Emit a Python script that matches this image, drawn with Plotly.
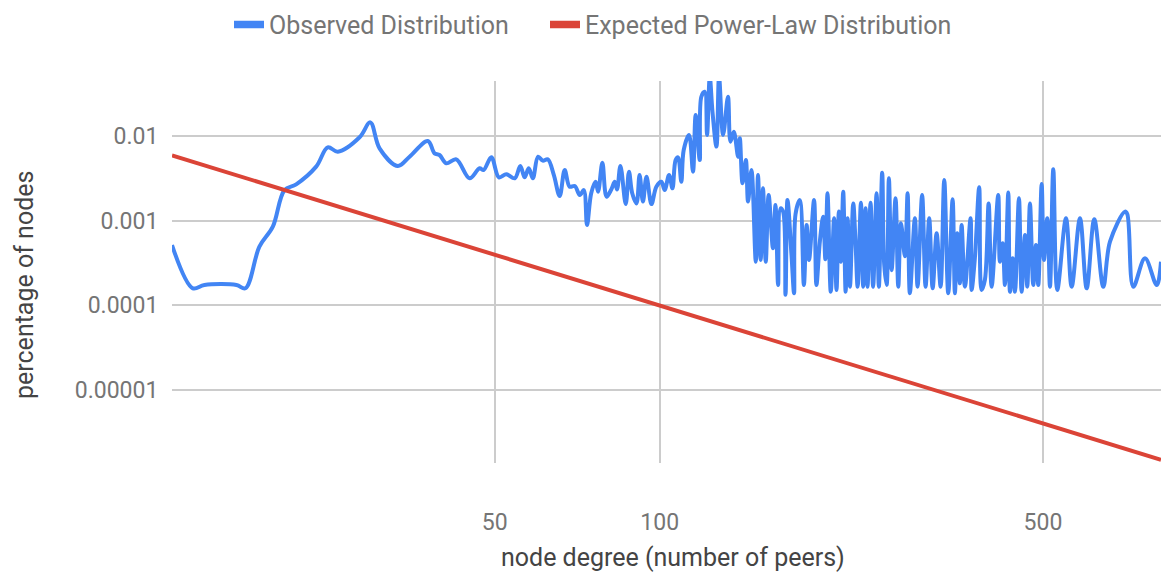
import plotly.graph_objects as go
import math

# ---- data ----
obs_degree = [
    12.9, 14.08, 14.78, 16.91, 17.56, 18.62, 19.70, 20.69, 21.73, 23.63,
    24.81, 25.88, 28.36, 29.66, 30.84, 33.30, 34.98, 37.77, 38.85, 39.67,
    40.81, 42.56, 45.01, 46.94, 47.74, 49.31, 50.91, 52.5, 54.4, 55.7,
    56.7, 57.7, 58.7, 60.0, 61.2, 62.5, 64.1, 65.7, 67.1, 68.5,
    70.0, 71.5, 72.7, 73.7, 75.0, 76.4, 77.2, 78.6, 80.0, 81.6,
    82.8, 83.6, 84.8, 86.7, 87.9, 89.1, 90.7, 91.9, 93.2, 94.6,
    96.6, 98.6, 100.7, 102.1, 104.0, 105.5, 106.9, 108.0, 109.5, 110.6,
    113.1, 115.0, 116.3, 118.3, 119.1, 120.8, 122.0, 123.4, 124.8, 126.9,
    128.3, 130.5, 133.2, 134.6, 136.5, 139.0, 140.0, 141.6, 143.6, 144.9,
    147.0, 149.7, 151.1, 152.8, 154.3, 156.1, 158.0, 160.9, 162.6, 164.4,
    166.1, 167.9, 169.6, 171.0, 173.9, 175.8, 176.9, 180.1, 183.2, 185.3,
    187.2, 191.2, 193.1, 195.9, 198.6, 200.5, 202.3, 205.1, 208.0, 210.1,
    212.2, 214.0, 216.1, 218.3, 220.1, 222.3, 225.4, 227.6, 229.6, 232.8,
    235.0, 237.4, 239.3, 242.4, 245.0, 248.6, 251.0, 254.5, 256.7, 259.3,
    261.8, 264.8, 269.2, 272.3, 275.4, 280.0, 283.2, 285.9, 292.0, 295.3,
    301.0, 305.4, 310.1, 314.6, 319.9, 325.3, 330.3, 335.9, 342.1, 345.4,
    348.8, 352.7, 355.3, 360.3, 368.9, 370.5, 375.6, 382.5, 386.4, 391.8,
    398.0, 403.0, 414.3, 417.3, 422.1, 426.2, 432.2, 435.3, 440.2, 444.5,
    452.0, 457.1, 463.6, 468.1, 473.4, 480.0, 485.5, 490.2, 497.2, 502.0,
    509.1, 514.9, 522.1, 530.9, 550.7, 564.0, 584.0, 600.7, 620.2, 644.1,
    662.5, 705.5, 712.3, 730.6, 767.4, 806.0, 820.7,
]
obs_share = [
    0.000516, 0.000159, 0.000174, 0.000174, 0.000159, 0.000493, 0.00085, 0.0023, 0.00269, 0.00435,
    0.00736, 0.00653, 0.00966, 0.0145, 0.00716, 0.00443, 0.0057, 0.00873, 0.00624, 0.00597,
    0.00476, 0.00531, 0.00317, 0.00416, 0.00397, 0.0056, 0.00325, 0.00353, 0.00317, 0.00443,
    0.00325, 0.00416, 0.00317, 0.0057, 0.00512, 0.00531, 0.00347, 0.00196, 0.00397, 0.00252,
    0.00257, 0.00201, 0.0023, 0.00089, 0.00211, 0.00288, 0.0022, 0.00484, 0.00192, 0.00234,
    0.00288, 0.00234, 0.00443, 0.00157, 0.00379, 0.00211, 0.0016, 0.00347, 0.00168, 0.00331,
    0.00157, 0.00252, 0.00288, 0.0023, 0.00347, 0.00241, 0.0052, 0.0056, 0.00288, 0.00684,
    0.0103, 0.00379, 0.0177, 0.0052, 0.0291, 0.0333, 0.0103, 0.05, 0.0194, 0.0075,
    0.05, 0.0103, 0.0291, 0.00857, 0.0112, 0.0057, 0.0094, 0.00277, 0.0052, 0.00168,
    0.00397, 0.000328, 0.00347, 0.000344, 0.00241, 0.000328, 0.00201, 0.000472, 0.00153, 0.000174,
    0.0014, 0.00128, 0.000133, 0.00175, 0.000394, 0.000139, 0.0012, 0.00175, 0.000174, 0.00089,
    0.000344, 0.00175, 0.000174, 0.000565, 0.00111, 0.00035, 0.00211, 0.000145, 0.00107, 0.000152,
    0.00128, 0.000328, 0.0022, 0.000145, 0.00107, 0.000166, 0.0016, 0.00054, 0.000166, 0.00163,
    0.000166, 0.0014, 0.000166, 0.00163, 0.000166, 0.00211, 0.000166, 0.00369, 0.0003, 0.000174,
    0.00317, 0.00026, 0.00184, 0.000166, 0.00093, 0.00038, 0.00211, 0.000139, 0.00107, 0.000166,
    0.00201, 0.000166, 0.00107, 0.000159, 0.00071, 0.000166, 0.00302, 0.000139, 0.00179, 0.000139,
    0.00071, 0.000182, 0.00089, 0.000166, 0.00107, 0.000152, 0.000359, 0.00248, 0.000152, 0.0002,
    0.0016, 0.000166, 0.00201, 0.000328, 0.00054, 0.000174, 0.00216, 0.000145, 0.000359, 0.000145,
    0.00184, 0.000145, 0.000678, 0.000166, 0.0016, 0.000174, 0.000516, 0.000174, 0.00271, 0.000344,
    0.00107, 0.000166, 0.00405, 0.000152, 0.00107, 0.000166, 0.00107, 0.000159, 0.00104, 0.000166,
    0.000565, 0.00128, 0.0012, 0.000166, 0.000359, 0.000174, 0.000328,
]

expected_degree = [12.9, 100, 820.7]
expected_share = [0.0059, 0.0001, 0.0000015]

x_tick_values = [50, 100, 500]
x_tick_labels = ["50", "100", "500"]
y_tick_values = [0.00001, 0.0001, 0.001, 0.01]
y_tick_labels = ["0.00001", "0.0001", "0.001", "0.01"]

series_names = ["Observed Distribution", "Expected Power-Law Distribution"]
x_title = "node degree (number of peers)"
y_title = "percentage of nodes"
BLUE = "#4285F4"
RED = "#DB4437"
FONT = "Roboto"

fig = go.Figure()
fig.add_trace(go.Scatter(
    x=obs_degree, y=obs_share, mode="lines",
    line=dict(color=BLUE, width=4, shape="spline", smoothing=1.0),
    showlegend=False, name=series_names[0],
))
fig.add_trace(go.Scatter(
    x=expected_degree, y=expected_share, mode="lines",
    line=dict(color=RED, width=4),
    showlegend=False, name=series_names[1],
))
# legend swatches (one legend box per series, placed like the original)
for nm, col, lg in zip(series_names, [BLUE, RED], ["legend", "legend2"]):
    fig.add_trace(go.Scatter(x=[None], y=[None], mode="lines",
                             line=dict(color=col, width=7.5), name=nm,
                             legend=lg))

legend_common = dict(orientation="h", xref="container", yref="container",
                     xanchor="left", y=0.957, yanchor="middle",
                     font=dict(size=25, color="#757575"), itemwidth=30,
                     bgcolor="rgba(0,0,0,0)", borderwidth=0)

fig.update_layout(
    width=1161, height=573,
    margin=dict(l=172, r=0, t=81, b=110, autoexpand=False),
    paper_bgcolor="white", plot_bgcolor="white",
    font=dict(family=FONT, color="#757575", size=23),
    legend=dict(x=229 / 1161, **legend_common),
    legend2=dict(x=545 / 1161, **legend_common),
    xaxis=dict(
        type="log", automargin=False,
        range=[math.log10(12.9), math.log10(820.7)],
        tickvals=x_tick_values, ticktext=x_tick_labels,
        showgrid=True, gridcolor="#cccccc", gridwidth=1.8,
        zeroline=False, showline=False,
        ticks="outside", ticklen=38, tickcolor="rgba(0,0,0,0)",
        tickfont=dict(size=23, color="#757575"),
    ),
    yaxis=dict(
        type="log", automargin=False,
        range=[-5.862, -1.35],
        tickvals=y_tick_values, ticktext=y_tick_labels,
        showgrid=True, gridcolor="#cccccc", gridwidth=1.8,
        zeroline=False, showline=False,
        ticks="outside", ticklen=8, tickcolor="rgba(0,0,0,0)",
        tickfont=dict(size=23, color="#757575"),
    ),
    annotations=[
        dict(text=x_title, xref="paper", yref="paper",
             x=(673 - 172) / 989, y=(463 - 557) / 382,
             xanchor="center", yanchor="middle", showarrow=False,
             font=dict(size=25, color="#444444", family=FONT)),
        dict(text=y_title, xref="paper", yref="paper",
             x=(24 - 172) / 989, y=(463 - 285) / 382, textangle=-90,
             xanchor="center", yanchor="middle", showarrow=False,
             font=dict(size=25, color="#444444", family=FONT)),
    ],
)

fig.write_html("out.html", config={"displayModeBar": False},
               post_script="document.body.style.margin='0';")
